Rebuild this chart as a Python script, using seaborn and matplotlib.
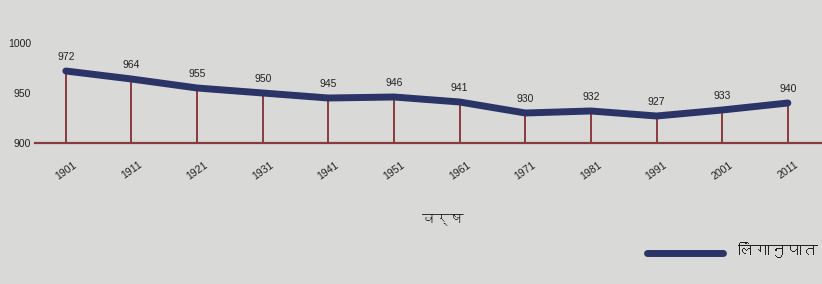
import numpy as np
import pandas as pd
import matplotlib
matplotlib.use("Agg")
import matplotlib.pyplot as plt
from matplotlib import font_manager
from matplotlib.ft2font import FT2Font
import seaborn as sns

years = [1901, 1911, 1921, 1931, 1941, 1951, 1961, 1971, 1981, 1991, 2001, 2011]
sex_ratio = [972, 964, 955, 950, 945, 946, 941, 930, 932, 927, 933, 940]
y_ticks = [900, 950, 1000]
x_label = "वर्ष"
legend_label = "लिंगानुपात"

sns.set_theme(style="white")

# find a font covering Devanagari, if any is installed
deva_family = None
for fe in font_manager.fontManager.ttflist:
    try:
        cmap = FT2Font(fe.fname).get_charmap()
        if 0x0935 in cmap and 0x0937 in cmap:
            deva_family = fe.name
            break
    except Exception:
        pass
fam = ([deva_family] if deva_family else []) + ["DejaVu Sans"]
plt.rcParams["font.family"] = ["Liberation Sans", "DejaVu Sans"]

bg = "#d9d9d8"
line_col = "#2b3466"
drop_col = "#8a3a3e"

fig = plt.figure(figsize=(8.22, 2.84), dpi=100, facecolor=bg)
W, H = 822, 284
ax = fig.add_axes([35 / W, 1 - 143 / H, 1 - 35 / W, 143 / H])
ax.set_facecolor(bg)

df = pd.DataFrame({"year": years, "ratio": sex_ratio})
sns.lineplot(data=df, x="year", y="ratio", ax=ax, color=line_col,
             linewidth=5, solid_capstyle="round", zorder=3, legend=False)
ax.vlines(years, 900, sex_ratio, color=drop_col, linewidth=1.4, zorder=2)

for x, y in zip(years, sex_ratio):
    ax.text(x, y + 9, str(y), ha="center", va="bottom", fontsize=7.5,
            color="#222222")

ax.set_xlim(1896.3, 2016.2)
ax.set_ylim(900, 1043)
ax.set_yticks(y_ticks)
ax.set_yticklabels([str(v) for v in y_ticks], fontsize=7.5, color="#222222")
ax.set_xticks(years)
ax.set_xticklabels([str(v) for v in years], rotation=35, fontsize=7.5,
                   color="#222222", ha="center")
ax.tick_params(axis="both", length=0)
ax.tick_params(axis="x", pad=12)
ax.tick_params(axis="y", pad=3)
for s in ["top", "right", "left"]:
    ax.spines[s].set_visible(False)
ax.spines["bottom"].set_color(drop_col)
ax.spines["bottom"].set_linewidth(1.6)
ax.set_xlabel("")
ax.set_ylabel("")

fig.text(443 / W, 1 - 219 / H, x_label, ha="center", va="center",
         fontsize=10, color="#222222", family=fam)
fig.add_artist(plt.Line2D([647 / W, 723 / W], [1 - 253 / H, 1 - 253 / H],
                          color=line_col, linewidth=5, solid_capstyle="round"))
fig.text(818 / W, 1 - 250 / H, legend_label, ha="right", va="center",
         fontsize=11.5, color="#222222", family=fam)

fig.savefig("out.png", dpi=100, facecolor=bg)
